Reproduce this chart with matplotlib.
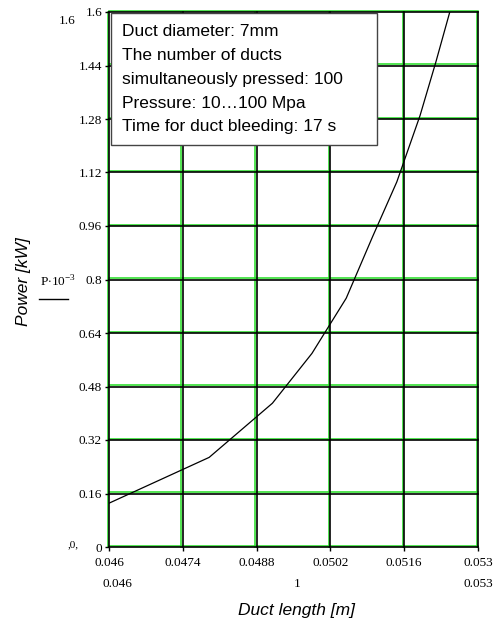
import numpy as np
import matplotlib
matplotlib.use('Agg')
import matplotlib.pyplot as plt
import matplotlib.transforms as mtransforms
from matplotlib.patches import Rectangle
from matplotlib.lines import Line2D

plt.rcParams['mathtext.fontset'] = 'custom'
plt.rcParams['mathtext.rm'] = 'Liberation Serif'

# --- data ---
duct_length = [0.0460, 0.0479, 0.0491, 0.04985, 0.0505, 0.0510, 0.05146, 0.0519, 0.0522, 0.0525]
power_kw = [0.131, 0.268, 0.430, 0.579, 0.744, 0.928, 1.092, 1.29, 1.45, 1.62]

x_ticks = [0.046, 0.0474, 0.0488, 0.0502, 0.0516, 0.053]
x_tick_labels = ['0.046', '0.0474', '0.0488', '0.0502', '0.0516', '0.053']
y_ticks = [0, 0.16, 0.32, 0.48, 0.64, 0.8, 0.96, 1.12, 1.28, 1.44, 1.6]
y_tick_labels = ['0', '0.16', '0.32', '0.48', '0.64', '0.8', '0.96', '1.12', '1.28', '1.44', '1.6']

info_lines = [
    'Duct diameter: 7mm',
    'The number of ducts',
    'simultaneously pressed: 100',
    'Pressure: 10\u2026100 Mpa',
    'Time for duct bleeding: 17 s',
]

W, H = 497, 621
fig = plt.figure(figsize=(W / 100, H / 100), dpi=100)
fig.patch.set_facecolor('white')

def fx(px):
    return px / W

def fy(py):
    return 1 - py / H

# axes box in pixels: left 109, right 478, top 12, bottom 547
ax = fig.add_axes([fx(109), fy(547), fx(478) - fx(109), (547 - 12) / H])
ax.set_xlim(0.046, 0.053)
ax.set_ylim(0, 1.6)

# grid: black line with a green line right beside it (Mathcad look)
green = '#22dd22'
up = mtransforms.offset_copy(ax.transData, fig=fig, x=0, y=1.4, units='dots')
left = mtransforms.offset_copy(ax.transData, fig=fig, x=-1.4, y=0, units='dots')
for yv in y_ticks:
    ax.plot([0.046, 0.053], [yv, yv], color=green, lw=1.1, transform=up, clip_on=False, zorder=1)
    ax.plot([0.046, 0.053], [yv, yv], color='black', lw=1.2, clip_on=False, zorder=2)
for xv in x_ticks:
    ax.plot([xv, xv], [0, 1.6], color=green, lw=1.1, transform=left, clip_on=False, zorder=1)
    ax.plot([xv, xv], [0, 1.6], color='black', lw=1.2, clip_on=False, zorder=2)

ax.plot(duct_length, power_kw, color='black', lw=0.9, zorder=3)

for s in ax.spines.values():
    s.set_visible(False)

ax.set_xticks(x_ticks)
ax.set_xticklabels(x_tick_labels)
ax.set_yticks(y_ticks)
ax.set_yticklabels(y_tick_labels)
ax.tick_params(axis='both', direction='out', length=3, width=1, color='black',
               labelsize=9.5, pad=2)
ax.tick_params(axis='x', pad=4)
for lab in ax.get_xticklabels() + ax.get_yticklabels():
    lab.set_fontfamily('Liberation Serif')

# Mathcad extra labels
serif = 'Liberation Serif'
fig.text(fx(67), fy(21), '1.6', fontsize=9.5, family=serif, ha='center', va='center')
fig.text(fx(73), fy(545), ',0,', fontsize=8, family=serif, ha='center', va='center')
fig.text(fx(117), fy(584), '0.046', fontsize=9.5, family=serif, ha='center', va='center')
fig.text(fx(297), fy(584), '1', fontsize=9.5, family=serif, ha='center', va='center')
fig.text(fx(478), fy(584), '0.053', fontsize=9.5, family=serif, ha='center', va='center')
fig.text(fx(58), fy(282), r'P$\cdot$10$^{-3}$', fontsize=9.5, family=serif, ha='center', va='center')
fig.add_artist(Line2D([fx(39), fx(68)], [fy(299), fy(299)], color='black', lw=1,
                      transform=fig.transFigure))

fig.text(fx(297), fy(610), 'Duct length [m]', fontsize=12.5, family='Liberation Sans',
         style='italic', ha='center', va='center')
fig.text(fx(24), fy(282), 'Power [kW]', fontsize=12.5, family='Liberation Sans',
         style='italic', rotation=90, ha='center', va='center')

# info box
fig.add_artist(Rectangle((fx(111), fy(145)), fx(377) - fx(111), (145 - 13) / H,
                         facecolor='white', edgecolor='#444444', lw=1,
                         transform=fig.transFigure, zorder=5))
for i, line in enumerate(info_lines):
    fig.text(fx(122), fy(32 + i * 23.7), line, fontsize=12.5, family='Liberation Sans',
             ha='left', va='center', zorder=6)

fig.savefig('out.png', dpi=100)
